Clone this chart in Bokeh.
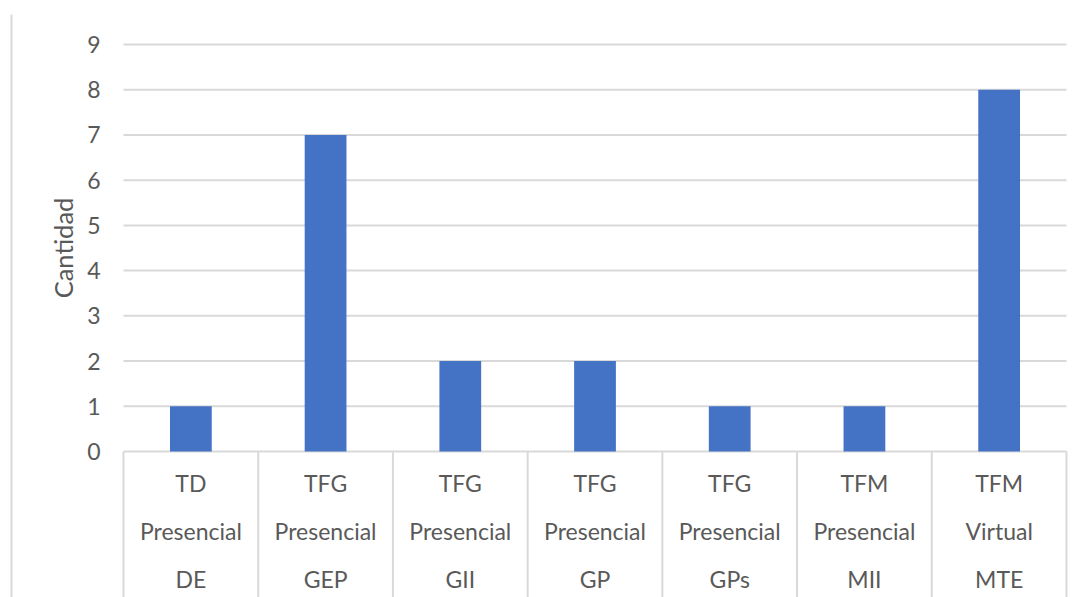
from bokeh.plotting import figure
from bokeh.models import Range1d, FixedTicker, ColumnDataSource, Label, LinearAxis
from bokeh.core.properties import value
from bokeh.embed import file_html
from bokeh.resources import INLINE
import numpy as np

# Thesis/project counts by type, modality and programme
tipos = ["TD", "TFG", "TFG", "TFG", "TFG", "TFM", "TFM"]
modalidades = ["Presencial", "Presencial", "Presencial", "Presencial", "Presencial", "Presencial", "Virtual"]
programas = ["DE", "GEP", "GII", "GP", "GPs", "MII", "MTE"]
cantidad = [1, 7, 2, 2, 1, 1, 8]
y_ticks = [0, 1, 2, 3, 4, 5, 6, 7, 8, 9]

FONT = "Lato"
TEXT_COLOR = "#595959"
GRID_COLOR = "#d9d9d9"
BAR_COLOR = "#4472C4"

n = len(cantidad)
centers = np.arange(n) + 0.5
edges = np.arange(n + 1)

# the frame fills the whole canvas; the plotting area sits inside it
x_lo, x_hi = -0.9131, n + 0.1262
y_lo, y_hi = -3.229, 9.973
p = figure(
    width=1083, height=597,
    x_range=Range1d(x_lo, x_hi), y_range=Range1d(y_lo, y_hi),
    output_backend="svg", toolbar_location=None,
    x_axis_location=None, y_axis_location=None,
    min_border=0,
)
p.outline_line_color = None
p.background_fill_color = "white"
p.border_fill_color = "white"
p.xgrid.visible = False
p.ygrid.visible = False

# value axis pinned to the left edge of the category area
yax = LinearAxis(fixed_location=0)
yax.ticker = FixedTicker(ticks=y_ticks)
yax.axis_line_color = None
yax.major_tick_line_color = None
yax.minor_tick_line_color = None
yax.major_tick_out = 0
yax.major_tick_in = 0
yax.major_label_standoff = 23
yax.major_label_text_font = FONT
yax.major_label_text_font_size = "23px"
yax.major_label_text_color = TEXT_COLOR
p.add_layout(yax, "left")

# horizontal gridlines across the category area
p.segment(x0=[0] * len(y_ticks), y0=y_ticks, x1=[n] * len(y_ticks), y1=y_ticks,
          line_color=GRID_COLOR, line_width=2)

# axis title, centred on the 0-9 value span
p.add_layout(Label(x=62, x_units="screen", y=(y_ticks[0] + y_ticks[-1]) / 2,
                   text="Cantidad", angle=np.pi / 2, text_font=FONT,
                   text_font_size="25.5px", text_color=TEXT_COLOR,
                   text_align="center", text_baseline="middle"))

# bars
src = ColumnDataSource(dict(x=centers, top=cantidad))
p.vbar(x="x", top="top", bottom=0, width=0.31, source=src,
       fill_color=BAR_COLOR, line_color=None)

# category table below the zero line
p.segment(x0=edges, y0=[0] * (n + 1), x1=edges, y1=[y_lo] * (n + 1),
          line_color=GRID_COLOR, line_width=2)

row_offsets = [-0.69, -1.75, -2.81]
for row, labels in zip(row_offsets, [tipos, modalidades, programas]):
    p.text(x=centers, y=[row] * n, text=labels,
           text_font=value(FONT), text_font_size="23px",
           text_color=TEXT_COLOR, text_align="center", text_baseline="middle")

# outer chart border on the left
border_x = x_lo + 11 / 134.71
border_top = y_hi - 14 / 45.22
p.segment(x0=[border_x], y0=[border_top], x1=[border_x], y1=[y_lo],
          line_color=GRID_COLOR, line_width=2)

open("out.html", "w").write(file_html(p, INLINE))
